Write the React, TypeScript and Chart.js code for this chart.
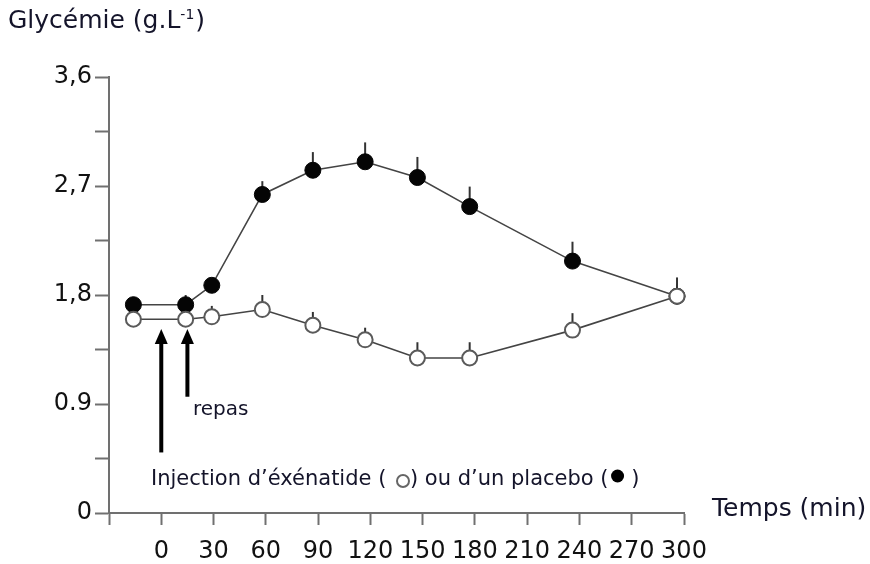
import React, { useEffect, useRef } from "react";
import { Chart, registerables } from "chart.js";

Chart.register(...registerables);

// ---- data ----
const times = [-16, 14, 29, 58, 87, 117, 147, 177, 236, 296];
const placebo = [1.72, 1.72, 1.88, 2.63, 2.83, 2.9, 2.77, 2.53, 2.08, 1.79];
const placeboErr = [0.03, 0.08, 0.06, 0.11, 0.15, 0.16, 0.17, 0.165, 0.16, 0.1];
const exenatide = [1.6, 1.6, 1.62, 1.68, 1.55, 1.43, 1.28, 1.28, 1.51, 1.79];
const exenatideErr = [0, 0.03, 0.09, 0.12, 0.11, 0.1, 0.13, 0.13, 0.14, 0.155];

const xTickValues = [0, 30, 60, 90, 120, 150, 180, 210, 240, 270, 300];
const xTickLabels = ["0", "30", "60", "90", "120", "150", "180", "210", "240", "270", "300"];
const yTickValues = [0, 0.9, 1.8, 2.7, 3.6];
const yTickLabels = ["0", "0.9", "1,8", "2,7", "3,6"];

const arrowTimes = [0, 15];
const arrowTop = [1.52, 1.52];
const arrowBottom = [0.5, 0.96];

const FONT = "'DejaVu Sans', sans-serif";
const TEXT = "#14142a";
const AXIS = "#707070";

const overlayPlugin = {
  id: "overlay",
  beforeDatasetsDraw(chart: any) {
    const { ctx, scales } = chart;
    const xs = scales.x;
    const ys = scales.y;
    ctx.save();
    ctx.strokeStyle = "#333";
    ctx.lineWidth = 2;
    const series = [
      [placebo, placeboErr],
      [exenatide, exenatideErr],
    ];
    series.forEach(([vals, errs]) => {
      vals.forEach((v: number, i: number) => {
        if (!errs[i]) return;
        const x = xs.getPixelForValue(times[i]);
        ctx.beginPath();
        ctx.moveTo(x, ys.getPixelForValue(v));
        ctx.lineTo(x, ys.getPixelForValue(v + errs[i]));
        ctx.stroke();
      });
    });
    ctx.restore();
  },
  afterDraw(chart: any) {
    const { ctx, scales } = chart;
    const xs = scales.x;
    const ys = scales.y;
    ctx.save();
    // arrows
    ctx.fillStyle = "#000";
    ctx.strokeStyle = "#000";
    arrowTimes.forEach((t, i) => {
      const x = xs.getPixelForValue(t);
      const yt = ys.getPixelForValue(arrowTop[i]);
      const yb = ys.getPixelForValue(arrowBottom[i]);
      ctx.lineWidth = 4;
      ctx.beginPath();
      ctx.moveTo(x, yb);
      ctx.lineTo(x, yt + 12);
      ctx.stroke();
      ctx.beginPath();
      ctx.moveTo(x, yt);
      ctx.lineTo(x - 6.5, yt + 15);
      ctx.lineTo(x + 6.5, yt + 15);
      ctx.closePath();
      ctx.fill();
    });

    // title
    ctx.fillStyle = TEXT;
    ctx.textBaseline = "alphabetic";
    ctx.textAlign = "left";
    ctx.font = `25px ${FONT}`;
    const t1 = "Glycémie (g.L";
    ctx.fillText(t1, 8, 28);
    let x = 8 + ctx.measureText(t1).width;
    ctx.font = `14px ${FONT}`;
    ctx.fillText("-1", x, 19);
    x += ctx.measureText("-1").width + 1;
    ctx.font = `25px ${FONT}`;
    ctx.fillText(")", x, 28);

    // x axis title
    ctx.font = `25px ${FONT}`;
    ctx.fillText("Temps (min)", 712, 516);

    // repas
    ctx.font = `20px ${FONT}`;
    ctx.fillText("repas", 193, 415);

    // injection legend text
    ctx.font = `21px ${FONT}`;
    let lx = 151;
    const ly = 485;
    const s1 = "Injection d’éxénatide ( ";
    ctx.fillText(s1, lx, ly);
    lx += ctx.measureText(s1).width + 10;
    ctx.beginPath();
    ctx.arc(lx, ly - 4, 6, 0, Math.PI * 2);
    ctx.fillStyle = "#fff";
    ctx.fill();
    ctx.lineWidth = 2;
    ctx.strokeStyle = "#666";
    ctx.stroke();
    lx += 7;
    ctx.fillStyle = TEXT;
    const s2 = ") ou d’un placebo (";
    ctx.fillText(s2, lx, ly);
    lx += ctx.measureText(s2).width + 9;
    ctx.beginPath();
    ctx.arc(lx, ly - 9, 6.5, 0, Math.PI * 2);
    ctx.fillStyle = "#000";
    ctx.fill();
    lx += 7;
    ctx.fillStyle = TEXT;
    ctx.fillText(" )", lx, ly);
    ctx.restore();
  },
};

export default function App() {
  const ref = useRef<HTMLCanvasElement | null>(null);
  useEffect(() => {
    if (!ref.current) return;
    const chart = new Chart(ref.current, {
      type: "line",
      data: {
        datasets: [
          {
            label: "exenatide",
            data: times.map((t, i) => ({ x: t, y: exenatide[i] })),
            borderColor: "#444",
            borderWidth: 1.6,
            pointRadius: 7.5,
            pointBackgroundColor: "#fff",
            pointBorderColor: "#5a5a5a",
            pointBorderWidth: 2,
            tension: 0,
            clip: false as any,
          },
          {
            label: "placebo",
            data: times.map((t, i) => ({ x: t, y: placebo[i] })),
            borderColor: "#444",
            borderWidth: 1.6,
            pointRadius: 8,
            pointBackgroundColor: "#050505",
            pointBorderColor: "#050505",
            pointBorderWidth: 1,
            tension: 0,
            clip: false as any,
          },
        ],
      },
      options: {
        animation: false,
        responsive: false,
        devicePixelRatio: 1,
        layout: { padding: { top: 77, right: 186, bottom: 0, left: 0 } },
        plugins: {
          legend: { display: false },
          tooltip: { enabled: false },
          title: { display: false },
        },
        scales: {
          x: {
            type: "linear",
            min: -30,
            max: 300,
            afterFit: (s: any) => {
              s.height = 51;
            },
            afterBuildTicks: (s: any) => {
              s.ticks = [-30, ...xTickValues].map((v) => ({ value: v }));
            },
            ticks: {
              autoSkip: false,
              maxRotation: 0,
              padding: 12,
              color: "#111",
              font: { family: FONT, size: 24 },
              callback: (v: any) => {
                const i = xTickValues.indexOf(Number(v));
                return i >= 0 ? xTickLabels[i] : "";
              },
            },
            grid: {
              drawOnChartArea: false,
              drawTicks: true,
              tickLength: 12,
              tickColor: AXIS,
              tickWidth: 2,
            },
            border: { display: true, color: AXIS, width: 2 },
          },
          y: {
            type: "linear",
            min: 0,
            max: 3.6,
            afterFit: (s: any) => {
              s.width = 109;
            },
            afterBuildTicks: (s: any) => {
              const arr = [];
              for (let k = 0; k <= 8; k++) arr.push({ value: Math.round(k * 45) / 100 });
              s.ticks = arr;
            },
            ticks: {
              autoSkip: false,
              padding: 3,
              color: "#111",
              font: { family: FONT, size: 24 },
              callback: (v: any) => {
                const i = yTickValues.findIndex((t) => Math.abs(t - Number(v)) < 1e-6);
                return i >= 0 ? yTickLabels[i] : "";
              },
            },
            grid: {
              drawOnChartArea: false,
              drawTicks: true,
              tickLength: 14,
              tickColor: AXIS,
              tickWidth: 2,
            },
            border: { display: true, color: AXIS, width: 2 },
          },
        },
      },
      plugins: [overlayPlugin],
    });
    return () => chart.destroy();
  }, []);
  return (
    <div style={{ position: "absolute", left: 0, top: 0, width: 870, height: 564, background: "#fff" }}>
      <canvas ref={ref} width={870} height={564} />
    </div>
  );
}
